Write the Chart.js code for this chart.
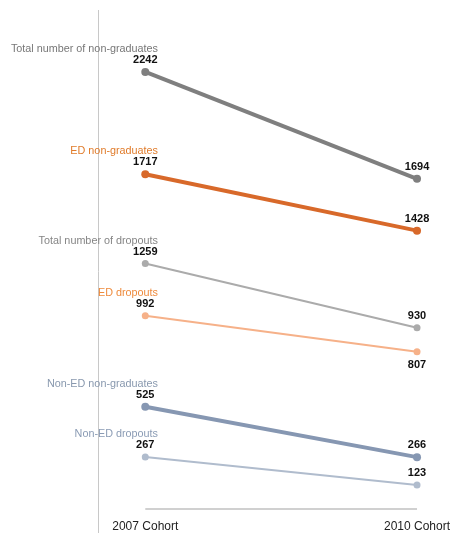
<!DOCTYPE html>
<html>
<head>
<meta charset="utf-8">
<script src="https://cdn.jsdelivr.net/npm/chart.js@4/dist/chart.umd.min.js"></script>
<style>
	html, body { margin: 0; padding: 0; background: #fff; }
	#wrap { width: 452px; height: 533px; }
</style>
</head>
<body>
<div id="wrap"><canvas id="slope"></canvas></div>
<script>
// **DATOS**
const cohorts = ['2007 Cohort', '2010 Cohort'];
const seriesNames = [
	'Total number of non-graduates',
	'ED non-graduates',
	'Total number of dropouts',
	'ED dropouts',
	'Non-ED non-graduates',
	'Non-ED dropouts'
];
const values2007 = [2242, 1717, 1259, 992, 525, 267];
const values2010 = [1694, 1428, 930, 807, 266, 123];

// **ESTILOS**
const lineColors = ['#7f7f7f', '#d8692a', '#ababab', '#f6b189', '#8697b2', '#b0bccd'];
const labelColors = ['#777777', '#e07b2a', '#858585', '#ee8a3c', '#8898ae', '#8a9bb4'];
const lineWidths = [4, 4, 2, 2, 4, 2];
const rightLabelBelow = [false, false, false, true, false, false];
const FONT = '"Liberation Sans", Arial, sans-serif';

/**
 * Construye los datasets a partir de los arrays.
 * @returns {Array} - Datasets para Chart.js.
 */
function buildDatasets() {
	return seriesNames.map((name, i) => ({
		label: name,
		data: [{ x: 0, y: values2007[i] }, { x: 1, y: values2010[i] }],
		borderColor: lineColors[i],
		backgroundColor: lineColors[i],
		borderWidth: lineWidths[i],
		pointRadius: lineWidths[i] > 2 ? 4 : 3.5,
		pointBorderWidth: 0,
		tension: 0,
	}));
}

// Plugin: ejes dibujados a mano y etiquetas
const slopeDecor = {
	id: 'slopeDecor',
	beforeDatasetsDraw(chart) {
		const { ctx, scales } = chart;
		ctx.save();
		ctx.strokeStyle = '#c8c8c8';
		ctx.lineWidth = 1;
		ctx.beginPath();
		ctx.moveTo(98.5, 10);
		ctx.lineTo(98.5, chart.height);
		ctx.stroke();
		ctx.strokeStyle = '#d0d0d0';
		ctx.lineWidth = 2;
		const y0 = scales.y.getPixelForValue(0);
		ctx.beginPath();
		ctx.moveTo(scales.x.getPixelForValue(0), y0);
		ctx.lineTo(scales.x.getPixelForValue(1), y0);
		ctx.stroke();
		ctx.restore();
	},
	afterDatasetsDraw(chart) {
		const { ctx, scales } = chart;
		ctx.save();
		ctx.textBaseline = 'middle';
		chart.data.datasets.forEach((ds, i) => {
			const pts = chart.getDatasetMeta(i).data;
			const p0 = pts[0], p1 = pts[1];
			ctx.font = '10.8px ' + FONT;
			ctx.fillStyle = labelColors[i];
			ctx.textAlign = 'right';
			ctx.fillText(ds.label, 158, p0.y - 23);
			ctx.font = 'bold 11px ' + FONT;
			ctx.fillStyle = '#111';
			ctx.textAlign = 'center';
			ctx.fillText(String(values2007[i]), p0.x, p0.y - 12);
			const dy = rightLabelBelow[i] ? 13 : -12;
			ctx.fillText(String(values2010[i]), p1.x, p1.y + dy);
		});
		// Etiquetas de cohortes
		ctx.font = '12px ' + FONT;
		ctx.fillStyle = '#222';
		cohorts.forEach((c, k) => {
			ctx.fillText(c, scales.x.getPixelForValue(k), 527);
		});
		ctx.restore();
	}
};

function init() {
	new Chart(document.getElementById('slope'), {
		type: 'line',
		data: { datasets: buildDatasets() },
		options: {
			responsive: true,
			maintainAspectRatio: false,
			animation: false,
			layout: { padding: { left: 98, right: 0, top: 10, bottom: 24 } },
			plugins: { legend: { display: false }, tooltip: { enabled: false } },
			scales: {
				x: {
					type: 'linear',
					display: false,
					min: -0.174,
					max: 1.114,
				},
				y: {
					display: false,
					min: 0,
					max: 2560,
				},
			},
		},
		plugins: [slopeDecor],
	});
}

document.addEventListener('DOMContentLoaded', init);
</script>
</body>
</html>
